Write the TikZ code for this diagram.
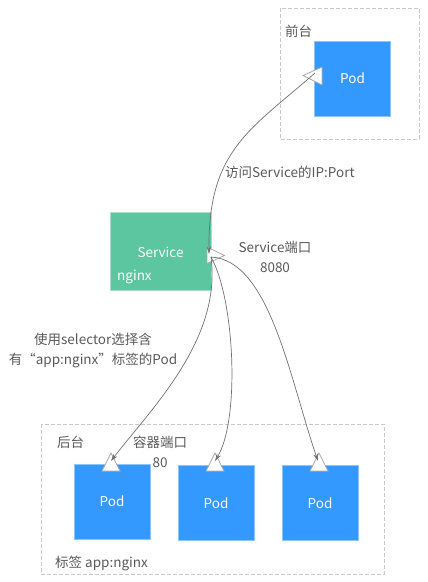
\documentclass[tikz,border=0pt]{standalone}
\usepackage{fontspec}
\setmainfont{Noto Sans CJK SC}
\usetikzlibrary{arrows.meta}
\definecolor{podblue}{HTML}{3399FF}
\definecolor{podedge}{HTML}{8CC4FB}
\definecolor{svcgreen}{HTML}{5CC6A0}
\definecolor{svcedge}{HTML}{A6E0CA}
\definecolor{txtgray}{HTML}{595959}
\definecolor{dashgray}{HTML}{C8C8C8}
\definecolor{linegray}{HTML}{707070}
\definecolor{portgray}{HTML}{A8A8A8}
\begin{document}
\begin{tikzpicture}[x=1pt,y=-1pt,
  every node/.style={font=\fontsize{13.5}{19.5}\selectfont, text=txtgray, inner sep=0pt},
  group/.style={draw=dashgray, dashed, line width=0.8pt, dash pattern=on 4pt off 2pt},
  pod/.style={draw=podedge, fill=podblue, line width=0.8pt, minimum width=76pt, minimum height=75pt, text=white},
  svc/.style={draw=svcedge, fill=svcgreen, line width=0.8pt, minimum width=101pt, minimum height=78pt},
  port/.style={draw=portgray, fill=white, line width=0.8pt, line join=miter},
  link/.style={draw=linegray, line width=0.7pt, -{Stealth[length=7.5pt,width=4.5pt]}},
  lbl/.style={text=txtgray}
]
\useasboundingbox (0,0) rectangle (428,582);

% groups
\draw[group] (280,8) rectangle (419,139);
\draw[group] (41,424) rectangle (384,574);
\node[lbl, anchor=west] (front) at (285,31) {前台};
\node[lbl, anchor=west] (back) at (57,442) {后台};
\node[lbl, anchor=west] (tag) at (55,563) {标签 app:nginx};

% pods
\node[pod] (fpod) at (352.5,78.5) {Pod};
\node[pod] (pod1) at (112,501.5) {Pod};
\node[pod] (pod2) at (216,503) {Pod};
\node[pod] (pod3) at (320,503) {Pod};

% service
\node[svc] (svc) at (160.5,251) {};
\node[text=white] (svctext) at (160.5,252) {Service};
\node[text=white, anchor=west] (svcname) at (117,277) {nginx};

% ports
\draw[port] (322,67) -- (303,75.5) -- (322,85) -- cycle;
\draw[port] (207,247) -- (224.5,255.5) -- (207,263.5) -- cycle;
\draw[port] (102,471) -- (111,453) -- (120,471) -- cycle;
\draw[port] (206,471) -- (215,453) -- (224,471) -- cycle;
\draw[port] (310,471) -- (319,453) -- (328,471) -- cycle;
\coordinate (fport) at (315,73);
\coordinate (sin) at (209,254);
\coordinate (sout) at (211,257);
\coordinate (p1) at (111,461);
\coordinate (p2) at (215,461);
\coordinate (p3) at (318,461);

% connectors
\draw[link] (fport) .. controls (250,130) and (208,150) .. (sin);
\draw[link] (sout) .. controls (222,340) and (150,410) .. (p1);
\draw[link] (sout) .. controls (235,300) and (240,420) .. (p2);
\draw[link] (sout) .. controls (270,260) and (290,380) .. (p3);

% labels
\node[lbl, anchor=west] (visit) at (225,172) {访问Service的IP:Port};
\node[lbl, align=center] (sport) at (275,257) {Service端口\\8080};
\node[lbl, align=center] (sel) at (93,350.5) {使用selector选择含\\有“app:nginx”标签的Pod};
\node[lbl, align=center] (cport) at (160,452) {容器端口\\80};
\end{tikzpicture}
\end{document}
